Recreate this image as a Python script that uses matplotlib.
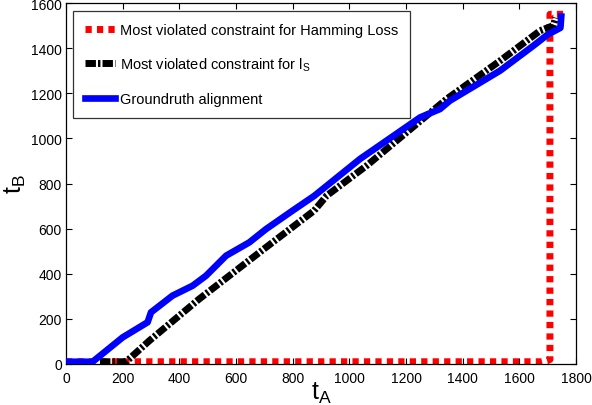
import matplotlib
matplotlib.use('Agg')
import matplotlib.pyplot as plt

plt.rcParams['font.family'] = ['Liberation Sans', 'DejaVu Sans']
plt.rcParams['mathtext.fontset'] = 'custom'
plt.rcParams['mathtext.rm'] = 'Liberation Sans'
plt.rcParams['mathtext.it'] = 'Liberation Sans'

# Most violated constraint for Hamming loss (red)
ham_tA = [0, 1680, 1700, 1708, 1708, 1760]
ham_tB = [10, 10, 15, 20, 1550, 1550]

# Most violated constraint for l_S (black dash-dot)
ls_tA = [120, 212, 294, 470, 706, 876, 920, 1061, 1344, 1532, 1673, 1720, 1728]
ls_tB = [10, 10, 103, 288, 517, 680, 746, 879, 1175, 1344, 1477, 1500, 1535]

# Groundtruth alignment (blue)
gt_tA = [0, 94, 200, 288, 300, 376, 447, 494, 565, 647, 706, 800, 876,
         1038, 1250, 1320, 1355, 1532, 1650, 1700, 1745, 1748]
gt_tB = [10, 10, 118, 185, 229, 303, 347, 391, 480, 539, 598, 680, 745,
         909, 1093, 1130, 1167, 1300, 1411, 1460, 1490, 1540]

fig = plt.figure(figsize=(5.92, 4.06), dpi=100)
ax = fig.add_axes([66/592, 1 - 365/406, 510/592, 361/406])

ax.plot(ham_tA, ham_tB, color='#ff0000', lw=5, dashes=[0.9, 0.75],
        label='Most violated constraint for Hamming Loss', zorder=2)
ax.plot(ls_tA, ls_tB, color='black', lw=5, dashes=[1.5, 0.3, 0.35, 0.3],
        label=r'Most violated constraint for l$_\mathregular{S}$', zorder=3)
ax.plot(gt_tA, gt_tB, color='#0000ff', lw=4.8,
        label='Groundruth alignment', zorder=4)

ax.set_xlim(0, 1800)
ax.set_ylim(0, 1600)
ax.set_xticks(range(0, 1801, 200))
ax.set_yticks(range(0, 1601, 200))
ax.tick_params(direction='in', top=True, right=True, length=4, width=0.8,
               labelsize=10)
ax.tick_params(axis='x', pad=5)
ax.tick_params(axis='y', pad=3)
for s in ax.spines.values():
    s.set_linewidth(0.9)

ax.set_xlabel(r'$\mathregular{t_A}$', fontsize=18, labelpad=-4)
ax.set_ylabel(r'$\mathregular{t_B}$', fontsize=18, labelpad=2)

leg = ax.legend(loc='upper left', bbox_to_anchor=(0.0137, 0.978),
                borderaxespad=0, fontsize=10.5, handlelength=2.1,
                labelspacing=1.3, frameon=True, fancybox=False,
                edgecolor='black', borderpad=0.8, handletextpad=0.3)
leg.get_frame().set_linewidth(0.9)

fig.savefig('out.png', dpi=100)
